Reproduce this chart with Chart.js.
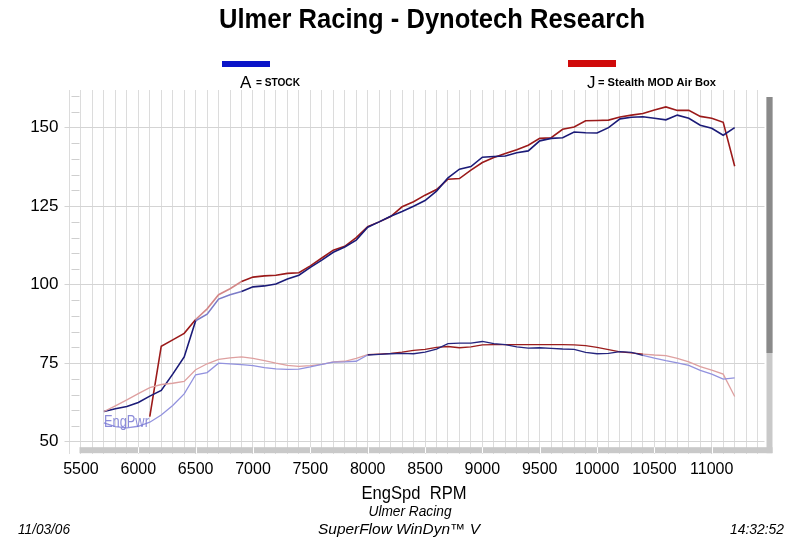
<!DOCTYPE html>
<html>
<head>
<meta charset="utf-8">
<title>Ulmer Racing - Dynotech Research</title>
<script src="https://cdn.jsdelivr.net/npm/chart.js@4.4.0/dist/chart.umd.min.js"></script>
<style>
body { margin:0; background:#fff; }
</style>
</head>
<body>
<canvas id="c" width="800" height="540"></canvas>
<script>
// dyno data (EngSpd RPM)
var rpm = [5700,5800,5900,6000,6100,6200,6300,6400,6500,6600,
           6700,6800,6900,7000,7100,7200,7300,7400,7500,7600,
           7700,7800,7900,8000,8100,8200,8300,8400,8500,8600,
           8700,8800,8900,9000,9100,9200,9300,9400,9500,9600,
           9700,9800,9900,10000,10100,10200,10300,10400,10500,10600,
           10700,10800,10900,11000,11100,11200];

// A = STOCK
var hpStock = [59.6,60.5,61.2,62.5,64.5,66.3,71.5,77,88.5,90.6,
               95.4,96.8,97.8,99.3,99.6,100.2,101.8,103,105.5,107.8,
               110.3,112,114.2,118.3,120,121.8,123.3,125,126.8,129.8,
               134,136.8,137.6,140.6,140.8,141,142,142.6,145.8,146.6,
               146.8,148.6,148.4,148.3,150,152.8,153.3,153.5,153,152.5,
               154,153,150.8,149.8,147.6,150];
var tqStock = [56,54.8,54.4,54.9,56.2,58.5,61.5,65.2,71.3,72,
               75,74.8,74.5,74.2,73.6,73.2,73,73.1,73.8,74.6,
               75.3,75.4,75.6,77.6,77.8,78,78.1,78,78.5,79.5,
               81.2,81.4,81.4,81.9,81.2,80.9,80.2,79.8,79.9,79.7,
               79.5,79.4,78.4,78,78.1,78.7,78.4,77.5,76.6,75.8,
               75.1,74.3,72.7,71.5,69.9,70.3];

// J = Stealth MOD Air Box
var hpMod = [null,null,null,null,58,80.4,82.4,84.5,88.9,92.3,
             96.8,98.7,101,102.4,102.8,103,103.6,103.8,106,108.5,
             111,112.2,115,118.5,120,121.7,124.8,126.4,128.5,130.3,
             133.6,133.8,136.5,138.9,140.5,141.8,143,144.4,146.6,146.8,
             149.5,150.2,152.2,152.3,152.4,153.4,154,154.5,155.6,156.6,
             155.5,155.5,153.6,153,151.7,137.7];
var tqMod = [59.6,61.4,63.3,65.3,67.2,68.2,68.6,69.2,72.9,74.8,
             76.2,76.7,77,76.5,75.8,75,74.3,74,74.2,74.6,
             75.4,75.6,76.5,77.7,77.9,78.1,78.5,79.1,79.4,80,
             80.3,79.9,80.2,80.8,80.9,80.9,80.9,80.9,80.9,80.9,
             80.9,80.8,80.6,80,79.3,78.6,78.3,77.9,77.6,77.4,
             76.5,75.4,73.9,72.8,71.5,64.4];

var xTicks = [5500,6000,6500,7000,7500,8000,8500,9000,9500,10000,10500,11000];
var yTicks = [50,75,100,125,150];

function pts(ys) {
  var out = [];
  for (var i = 0; i < rpm.length; i++) out.push({x: rpm[i], y: ys[i]});
  return out;
}

// the printout draws the thin lines lighter outside the mid range
function seg(dark, light, lo, hi) {
  return function(c) {
    var x = c.p0.parsed.x;
    return (x >= lo && x < hi) ? dark : light;
  };
}
function segHp(dark, light) {
  return function(c) {
    var x = c.p0.parsed.x;
    return (x >= 6500 && x < 6900) ? light : dark;
  };
}

// draw text squeezed to a given width (the printout font is narrow)
function fitText(ctx, txt, x, y, w, align) {
  var m = ctx.measureText(txt).width;
  var sx = w / m;
  ctx.save();
  ctx.translate(x, y);
  ctx.scale(sx, 1);
  ctx.textAlign = align || 'left';
  ctx.fillText(txt, 0, 0);
  ctx.restore();
}

var decor = {
  id: 'decor',
  beforeDatasetsDraw: function(chart) {
    var ctx = chart.ctx, a = chart.chartArea, ys = chart.scales.y;
    ctx.save();
    ctx.strokeStyle = '#cfcfcf';
    ctx.lineWidth = 1;
    for (var v = 50; v <= 160; v += 5) {
      if (v % 25 == 0) continue;
      var py = Math.round(ys.getPixelForValue(v)) + 0.5;
      ctx.beginPath(); ctx.moveTo(a.left + 2, py); ctx.lineTo(a.left + 10, py); ctx.stroke();
    }
    ctx.restore();
  },
  afterDraw: function(chart) {
    var ctx = chart.ctx, a = chart.chartArea, xs = chart.scales.x, ys = chart.scales.y;
    ctx.save();

    // scroll bars
    ctx.fillStyle = '#c9c9c9';
    ctx.fillRect(a.left + 10, a.bottom - 7, a.right - a.left - 2, 6);
    ctx.fillStyle = '#ffffff';
    for (var i = 1; i < xTicks.length; i++) {
      ctx.fillRect(Math.round(xs.getPixelForValue(xTicks[i])), a.bottom - 7, 1, 6);
    }
    ctx.fillStyle = '#c9c9c9';
    ctx.fillRect(a.right + 2, a.top + 7, 6, a.bottom - a.top - 8);
    ctx.fillStyle = '#8a8a8a';
    ctx.fillRect(a.right + 2, a.top + 7, 6, 256);

    // EngPwr label sits over the curves
    ctx.fillStyle = 'rgba(120,120,210,0.85)';
    ctx.font = '16px "Liberation Sans", Arial, sans-serif';
    fitText(ctx, 'EngPwr', xs.getPixelForValue(5700), ys.getPixelForValue(54.6), 45, 'left');

    // title
    ctx.fillStyle = '#000';
    ctx.font = 'bold 28px "Liberation Sans", Arial, sans-serif';
    fitText(ctx, 'Ulmer Racing - Dynotech Research', 432, 28, 426, 'center');

    // legend
    ctx.fillStyle = '#0a14c8';
    ctx.fillRect(222, 61, 48, 6);
    ctx.fillStyle = '#d00a0a';
    ctx.fillRect(568, 60, 48, 7);
    ctx.fillStyle = '#000';
    ctx.font = '17px "Liberation Sans", Arial, sans-serif';
    ctx.textAlign = 'left';
    ctx.fillText('A', 240, 88);
    ctx.fillText('J', 587, 88);
    ctx.font = 'bold 10px "Liberation Sans", Arial, sans-serif';
    fitText(ctx, '= STOCK', 256, 86, 44, 'left');
    fitText(ctx, '= Stealth MOD Air Box', 598, 86, 118, 'left');

    // footer
    ctx.font = '19px "Liberation Sans", Arial, sans-serif';
    fitText(ctx, 'EngSpd  RPM', 414, 499, 105, 'center');
    ctx.font = 'italic 15px "Liberation Sans", Arial, sans-serif';
    fitText(ctx, 'Ulmer Racing', 410, 516, 83, 'center');
    fitText(ctx, 'SuperFlow WinDyn\u2122 V', 399, 534, 162, 'center');
    fitText(ctx, '11/03/06', 18, 534, 52, 'left');
    fitText(ctx, '14:32:52', 730, 534, 54, 'left');
    ctx.restore();
  }
};

var ctx = document.getElementById('c').getContext('2d');
var chart = new Chart(ctx, {
  type: 'line',
  data: {
    datasets: [
      { label: 'A tq', data: pts(tqStock), borderWidth: 1.3, pointRadius: 0,
        borderColor: '#8e8ee0', segment: { borderColor: seg('#25257e', '#9292de', 8000, 10400) } },
      { label: 'J tq', data: pts(tqMod), borderWidth: 1.3, pointRadius: 0,
        borderColor: '#e0a0a0', segment: { borderColor: seg('#9b1d1d', '#dea0a0', 8000, 10400) } },
      { label: 'A', data: pts(hpStock), borderWidth: 1.6, pointRadius: 0,
        borderColor: '#1b1b78', segment: { borderColor: segHp('#1b1b78', '#7c7cc8') } },
      { label: 'J', data: pts(hpMod), borderWidth: 1.6, pointRadius: 0, spanGaps: false,
        borderColor: '#9b1a1a', segment: { borderColor: segHp('#9b1a1a', '#d48888') } }
    ]
  },
  options: {
    responsive: false,
    animation: false,
    layout: { padding: { top: 90, right: 35.5, left: 0, bottom: 0 } },
    plugins: { legend: { display: false }, tooltip: { enabled: false }, title: { display: false } },
    elements: { line: { tension: 0 } },
    scales: {
      x: {
        type: 'linear', min: 5400, max: 11460,
        afterFit: function(s) { s.height = 540 - 454.2; },
        afterBuildTicks: function(s) {
          var t = [];
          for (var v = 5400; v <= 11400; v += 100) t.push({ value: v });
          s.ticks = t;
        },
        ticks: {
          autoSkip: false, maxRotation: 0, padding: 6, color: '#000',
          font: { family: '"Liberation Sans", Arial, sans-serif', size: 16 },
          callback: function(v) { return xTicks.indexOf(v) >= 0 ? String(v) : ''; }
        },
        grid: { color: '#dcdcdc', drawTicks: false },
        border: { display: false }
      },
      y: {
        min: 46, max: 162,
        afterFit: function(s) { s.width = 69.5; },
        afterBuildTicks: function(s) { s.ticks = yTicks.map(function(v) { return { value: v }; }); },
        ticks: {
          padding: 6, color: '#000',
          font: { family: '"Liberation Sans", Arial, sans-serif', size: 17 }
        },
        grid: { color: '#d4d4d4', tickLength: 5 },
        border: { display: false }
      }
    }
  },
  plugins: [decor]
});
</script>
</body>
</html>
